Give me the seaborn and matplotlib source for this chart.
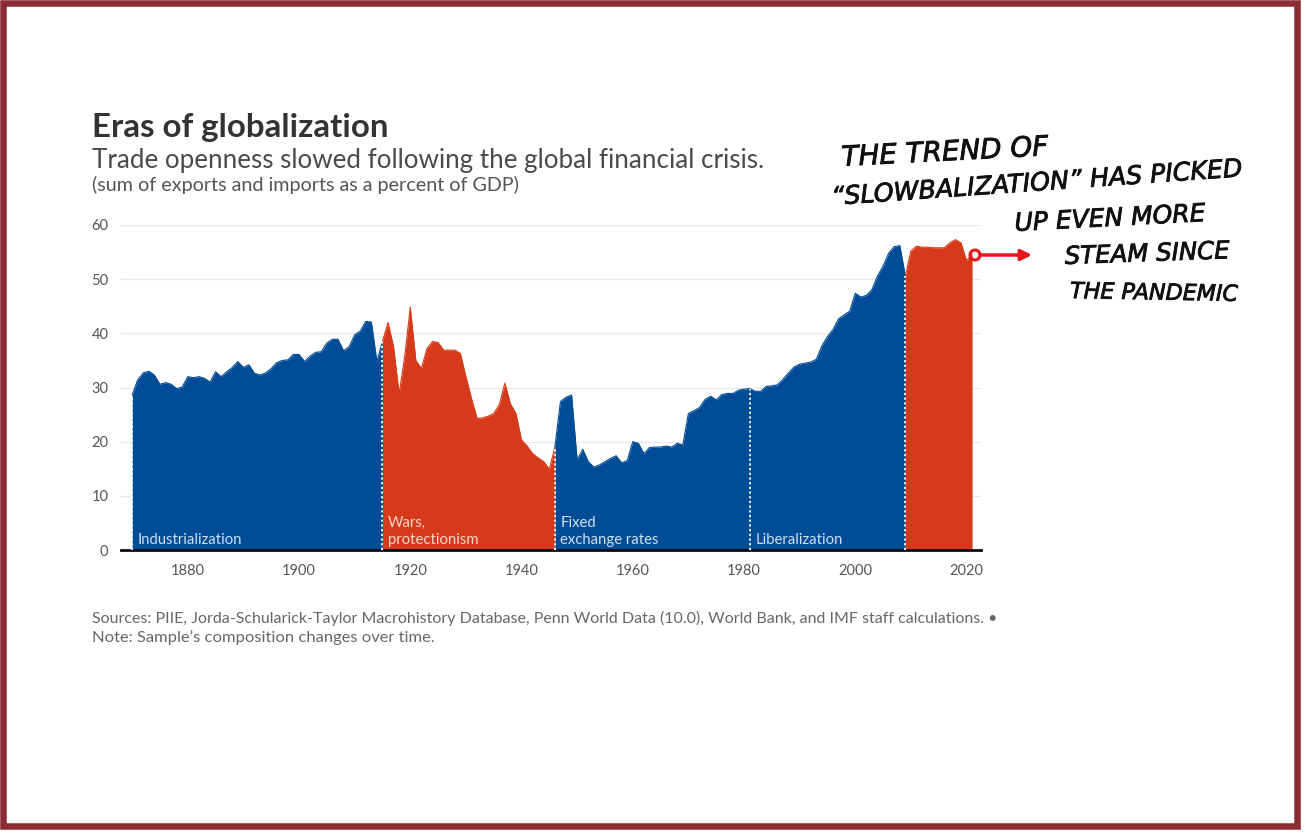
import numpy as np
import pandas as pd
import matplotlib
matplotlib.use("Agg")
import matplotlib.pyplot as plt
import matplotlib.patheffects as pe
from matplotlib.patches import Rectangle, Circle
import seaborn as sns

years = list(range(1870, 2022))
openness = [
    28.6, 31.4, 32.7, 33.0, 32.3, 30.6, 30.9, 30.6, 29.8, 30.1,
    32.0, 31.8, 32.0, 31.7, 31.0, 32.9, 32.0, 32.9, 33.7, 34.8,
    33.7, 34.2, 32.6, 32.3, 32.7, 33.5, 34.6, 35.0, 35.1, 36.1,
    36.1, 34.8, 35.8, 36.5, 36.6, 38.2, 38.9, 38.9, 36.8, 37.5,
    39.7, 40.4, 42.2, 42.1, 34.8, 38.5, 42.0, 37.5, 28.8, 35.7,
    44.8, 35.0, 33.5, 37.2, 38.5, 38.3, 36.9, 36.9, 36.9, 36.3,
    32.0, 28.0, 24.3, 24.4, 24.7, 25.2, 26.8, 30.8, 27.0, 25.2,
    20.3, 19.2, 17.8, 17.0, 16.3, 14.9, 19.0, 27.4, 28.2, 28.6,
    16.6, 18.6, 16.3, 15.3, 15.7, 16.3, 16.9, 17.4, 16.1, 16.5,
    20.0, 19.7, 17.8, 18.9, 19.0, 19.0, 19.2, 19.0, 19.7, 19.4,
    25.2, 25.7, 26.3, 27.8, 28.4, 27.7, 28.7, 28.9, 28.9, 29.5,
    29.7, 29.8, 29.3, 29.3, 30.2, 30.3, 30.5, 31.5, 32.7, 33.8,
    34.3, 34.5, 34.7, 35.2, 37.7, 39.4, 40.7, 42.7, 43.4, 44.1,
    47.4, 46.7, 47.0, 48.1, 50.6, 52.4, 54.8, 56.0, 56.2, 50.6,
    55.2, 56.1, 55.9, 55.9, 55.8, 55.8, 55.8, 56.7, 57.3, 56.7,
    53.4, 54.6,
]

era_starts = [1870, 1915, 1946, 1981, 2009]
era_ends = [1915, 1946, 1981, 2009, 2021]
era_colors = ["#004c97", "#d63a1a", "#004c97", "#004c97", "#d63a1a"]
era_names = ["Industrialization", "Wars,\nprotectionism", "Fixed\nexchange rates", "Liberalization", ""]
era_text = ["#cfe0f2", "#f8d8cc", "#cfe0f2", "#cfe0f2", "#ffffff"]
year_ticks = [1880, 1900, 1920, 1940, 1960, 1980, 2000, 2020]
value_ticks = [0, 10, 20, 30, 40, 50, 60]
note_lines = ["THE TREND OF", "\u201cSLOWBALIZATION\u201d HAS PICKED", "UP EVEN MORE", "STEAM SINCE", "THE PANDEMIC"]

W, H = 1306, 838
sns.set_theme(style="white")
plt.rcParams["font.family"] = ["Lato", "DejaVu Sans"]
df = pd.DataFrame({"year": years, "openness": openness})

fig = plt.figure(figsize=(W / 100, H / 100), dpi=100, facecolor="white")
ax = fig.add_axes([121 / W, 1 - 550 / H, 860 / W, 325 / H])

def fx(px):
    return px / W

def fy(py):
    return 1 - py / H

for s, e, c, name, tc in zip(era_starts, era_ends, era_colors, era_names, era_text):
    part = df[(df.year >= s) & (df.year <= e)]
    ax.fill_between(part.year, 0, part.openness, color=c, lw=0, zorder=2)
    sns.lineplot(data=part, x="year", y="openness", color=c, lw=0.8, ax=ax, zorder=2, errorbar=None)
    if name:
        ax.text(s + 1.0, 0.6, name, color=tc, fontsize=10.7, va="bottom", ha="left", linespacing=1.25, zorder=4)

# dotted era dividers run up to the curve
for s in era_starts:
    top = df.loc[df.year == s, "openness"].iloc[0]
    ax.plot([s, s], [0, top], color="white", lw=1.3, ls=(0, (1.2, 1.4)), zorder=3)

ax.set_xlim(1868, 2022.6)
ax.set_ylim(0, 60)
ax.set_xticks(year_ticks)
ax.set_yticks(value_ticks)
ax.set_xlabel("")
ax.set_ylabel("")
ax.grid(axis="y", color="#e9e9e9", lw=0.9, zorder=0)
ax.grid(axis="x", visible=False)
ax.tick_params(axis="both", length=0, labelsize=10.5, labelcolor="#555555")
ax.tick_params(axis="x", pad=10)
ax.tick_params(axis="y", pad=9)
sns.despine(ax=ax, left=True, top=True, right=True)
ax.spines["bottom"].set_color("#0a0a14")
ax.spines["bottom"].set_linewidth(2)

fig.text(fx(92), fy(137), "Eras of globalization", fontsize=23.8, fontweight="bold", color="#333333", va="baseline")
fig.text(fx(92), fy(168), "Trade openness slowed following the global financial crisis.", fontsize=18.7, color="#4a4a4a", va="baseline")
fig.text(fx(92), fy(191), "(sum of exports and imports as a percent of GDP)", fontsize=14.2, color="#555555", va="baseline")
fig.text(fx(92), fy(623), "Sources: PIIE, Jorda-Schularick-Taylor Macrohistory Database, Penn World Data (10.0), World Bank, and IMF staff calculations. \u2022",
         fontsize=11.55, color="#666666", va="baseline")
fig.text(fx(92), fy(642), "Note: Sample\u2019s composition changes over time.", fontsize=11.85, color="#666666", va="baseline")

# handwritten note, each line sits at its own angle
note_x = [842, 832, 1015, 1065, 1070]
note_y = [166, 205, 231, 264, 298]
note_rot = [3, 4, 3, 2, -1]
note_size = [20, 18.2, 18, 17.6, 16]
for txt, x, y, r, fs in zip(note_lines, note_x, note_y, note_rot, note_size):
    t = fig.text(fx(x), fy(y), txt, fontsize=fs, color="#111111", rotation=r, rotation_mode="anchor",
                 family=["DejaVu Sans"], style="oblique", va="baseline", ha="left")
    t.set_path_effects([pe.withStroke(linewidth=0.6, foreground="#111111")])

fig.add_artist(Circle((975, H - 255), 5, transform=None, fill=False, ec="#e8141c", lw=2.2))
ax.annotate("", xy=(1032, H - 255), xytext=(980, H - 255), xycoords="figure pixels", textcoords="figure pixels",
            arrowprops=dict(arrowstyle="-|>", color="#e8141c", lw=2.5, mutation_scale=16, shrinkA=0, shrinkB=0))

# frame stops short of the right and bottom edges of the image
frame = Rectangle((3.4, H - 826), 1294, 823, transform=None, fill=False, ec="#8c2d33", lw=4.7)
fig.add_artist(frame)
fig.savefig("out.png", dpi=100)
